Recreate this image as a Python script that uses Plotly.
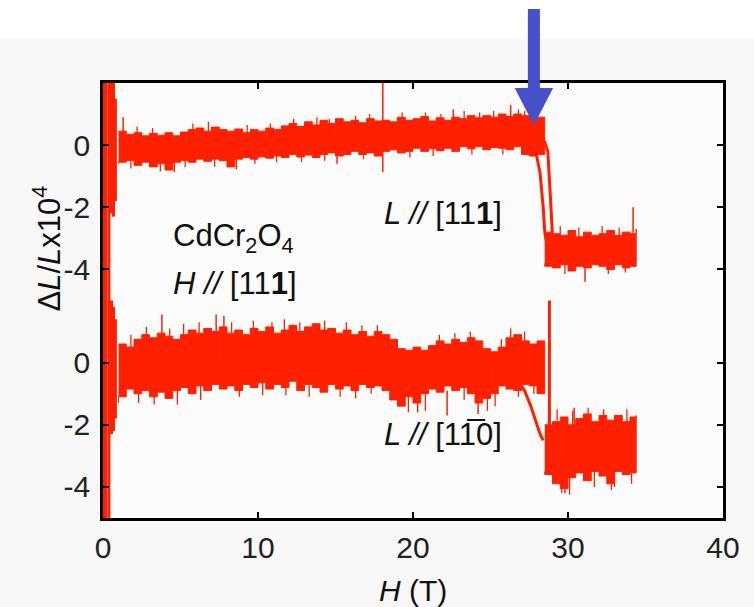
import plotly.graph_objects as go

# ---------------------------------------------------------------
# Magnetostriction of CdCr2O4 in pulsed fields, H // [111]
# Noisy traces are stored as upper / lower envelopes of the signal.
# ---------------------------------------------------------------

# Field grid for the low-field (cubic) part of both traces, in T
H_BASE = [1.0, 1.5, 2.0, 2.5, 3.0, 3.5, 4.0, 4.5, 5.0, 5.5, 6.0, 6.5, 7.0, 7.5,
          8.0, 8.5, 9.0, 9.5, 10.0, 10.5, 11.0, 11.5, 12.0, 12.5, 13.0, 13.5,
          14.0, 14.5, 15.0, 15.5, 16.0, 16.5, 17.0, 17.5, 18.0, 18.5, 19.0,
          19.5, 20.0, 20.5, 21.0, 21.5, 22.0, 22.5, 23.0, 23.5, 24.0, 24.5,
          25.0, 25.5, 26.0, 26.5, 27.0, 27.5, 28.0, 28.5]

# L // [111] : dL/L x 10^4, envelope of the noisy signal
L111_UPPER = [0.45, 0.35, 0.40, 0.30, 0.38, 0.32, 0.40, 0.30, 0.42, 0.50, 0.55,
              0.45, 0.58, 0.50, 0.45, 0.52, 0.40, 0.50, 0.45, 0.55, 0.50, 0.62,
              0.70, 0.60, 0.75, 0.65, 0.80, 0.70, 0.85, 0.75, 0.80, 0.72, 0.85,
              0.78, 0.80, 0.75, 0.90, 0.80, 0.85, 0.92, 0.78, 0.88, 0.80, 0.90,
              0.85, 0.95, 0.88, 0.95, 0.90, 1.00, 0.92, 1.00, 0.95, 0.95, 0.90,
              0.80]
L111_LOWER = [-0.60, -0.55, -0.50, -0.65, -0.55, -0.70, -0.60, -0.80, -0.55,
              -0.50, -0.55, -0.45, -0.52, -0.45, -0.50, -0.70, -0.45, -0.40,
              -0.45, -0.38, -0.42, -0.35, -0.40, -0.30, -0.38, -0.32, -0.40,
              -0.30, -0.25, -0.35, -0.30, -0.20, -0.30, -0.25, -0.35, -0.20,
              -0.15, -0.25, -0.20, -0.10, -0.20, -0.12, -0.18, -0.10, -0.20,
              -0.05, -0.12, -0.05, -0.15, -0.08, -0.10, -0.15, -0.05, -0.30,
              -0.35, -0.30]

# L // [1-10] : dL/L x 10^4, envelope of the noisy signal
L110_UPPER = [0.60, 0.50, 0.75, 0.90, 0.80, 0.95, 0.85, 0.75, 0.90, 1.05, 0.95,
              1.10, 1.00, 1.15, 0.95, 1.05, 0.90, 1.10, 1.00, 1.15, 0.95, 1.05,
              1.20, 1.00, 1.15, 1.25, 1.05, 1.10, 0.95, 1.05, 0.90, 1.00, 0.85,
              1.00, 0.90, 0.75, 0.45, 0.40, 0.50, 0.40, 0.55, 0.70, 0.60, 0.75,
              0.65, 0.80, 0.70, 0.45, 0.35, 0.50, 0.80, 0.90, 0.70, 0.60, 0.70,
              0.65]
L110_LOWER = [-1.30, -1.10, -0.85, -1.00, -0.90, -1.10, -0.95, -1.15, -0.90,
              -0.80, -1.00, -0.75, -0.90, -0.70, -0.85, -0.75, -0.90, -0.70,
              -0.80, -0.65, -0.85, -0.70, -0.80, -0.60, -0.90, -0.70, -0.80,
              -0.95, -0.70, -0.85, -0.75, -0.90, -0.70, -0.80, -0.75, -0.90,
              -1.20, -1.40, -1.10, -1.30, -1.00, -0.85, -0.95, -0.75, -0.90,
              -0.80, -1.00, -1.30, -1.15, -1.00, -0.75, -0.85, -0.90, -0.70,
              -0.75, -1.00]

# High-field (distorted) plateau, field grid in T
H_HIGH = [28.5, 29.0, 29.5, 30.0, 30.5, 31.0, 31.5, 32.0, 32.5, 33.0, 33.5,
          34.0, 34.4]
L111_HIGH_UPPER = [-2.80, -2.85, -2.90, -2.75, -2.95, -2.80, -2.90, -2.85,
                   -2.75, -2.90, -2.80, -2.85, -2.70]
L111_HIGH_LOWER = [-3.80, -3.90, -3.95, -3.85, -4.05, -3.90, -3.95, -3.85,
                   -3.90, -4.00, -3.85, -3.95, -3.90]
L110_HIGH_UPPER = [-2.00, -1.90, -1.75, -2.00, -1.80, -1.65, -1.90, -1.70,
                   -1.85, -1.70, -1.90, -1.75, -1.70]
L110_HIGH_LOWER = [-3.50, -3.60, -3.90, -4.05, -3.70, -3.55, -3.80, -3.50,
                   -3.65, -3.90, -3.50, -3.60, -3.55]

# Transition branches (up and down sweeps)
L111_SWEEP_A_H = [27.4, 27.8, 28.0, 28.2, 28.4, 28.5, 28.7]
L111_SWEEP_A = [0.30, 0.00, -0.40, -0.90, -2.00, -2.80, -3.40]
L111_SWEEP_B_H = [28.0, 28.5, 28.7, 28.8, 28.9, 29.0, 29.1]
L111_SWEEP_B = [0.30, 0.10, -0.20, -1.00, -2.00, -2.90, -3.30]
L110_SWEEP_A_H = [26.8, 27.2, 27.6, 28.0, 28.2, 28.4]
L110_SWEEP_A = [-0.60, -0.90, -1.40, -2.00, -2.30, -2.50]
L110_SWEEP_B_H = [28.8, 28.8, 28.9]
L110_SWEEP_B = [2.00, -2.30, -2.60]

# Isolated spikes: field, low end, high end
L111_SPIKE_H = [1.3, 4.6, 8.6, 15.1, 18.05, 22.6, 26.3, 31.1, 34.2]
L111_SPIKE_LO = [0.2, -0.87, -0.78, -0.60, -0.87, 0.50, 0.50, -4.40, -3.00]
L111_SPIKE_HI = [0.9, -0.20, -0.20, 0.00, 2.00, 1.15, 1.30, -3.50, -2.00]
L110_SPIKE_H = [3.8, 7.3, 7.8, 20.3, 22.2, 24.2, 29.8, 30.4, 33.0]
L110_SPIKE_LO = [0.0, 0.0, 0.0, -1.60, -1.70, -1.65, -4.20, -2.00, -4.00]
L110_SPIKE_HI = [1.55, 1.55, 1.50, -0.80, -0.90, -0.90, -3.40, -1.45, -3.30]

# Noise excursions on the band edges: field and tip value
L111_EDGE_H = [2.2, 3.2, 5.8, 6.8, 9.3, 10.8, 12.3, 13.8, 14.6, 16.3, 17.2,
               19.3, 20.8, 21.8, 23.3, 24.3, 25.2, 26.8, 27.2,
               1.8, 3.7, 5.3, 7.2, 9.8, 11.2, 12.8, 14.3, 16.8, 19.8, 21.3,
               23.8, 25.8]
L111_EDGE_TIP = [0.60, 0.55, 0.70, 0.75, 0.65, 0.70, 0.85, 0.90, 0.85, 0.95,
                 1.00, 1.05, 1.05, 1.00, 1.10, 1.05, 1.10, 1.15, 1.10,
                 -0.75, -0.85, -0.70, -0.70, -0.60, -0.55, -0.55, -0.50, -0.45,
                 -0.40, -0.35, -0.30, -0.30]
L111_HIGH_EDGE_H = [29.5, 30.7, 32.2, 33.3, 29.8, 32.6, 33.7]
L111_HIGH_EDGE_TIP = [-2.60, -2.65, -2.60, -2.65, -4.15, -4.15, -4.10]
L110_EDGE_H = [1.8, 2.8, 4.3, 5.2, 6.2, 8.3, 9.7, 10.9, 11.7, 12.7, 14.3,
               15.7, 16.7, 17.7, 21.7, 22.7, 23.7, 25.7, 26.3, 27.2,
               2.3, 3.3, 4.8, 6.3, 8.8, 10.3, 11.8, 13.3, 15.3, 16.3, 17.3,
               18.8, 19.7, 20.8, 23.3, 24.8, 25.3, 26.8, 27.8]
L110_EDGE_TIP = [0.90, 1.15, 1.10, 1.25, 1.30, 1.30, 1.35, 1.30, 1.40, 1.30,
                 1.35, 1.30, 1.20, 1.20, 0.90, 0.95, 1.00, 0.75, 1.10, 1.00,
                 -1.30, -1.35, -1.35, -1.20, -1.10, -1.05, -1.05, -1.10, -1.10,
                 -1.15, -1.00, -1.20, -1.60, -1.55, -1.20, -1.55, -1.40, -1.10,
                 -1.00]
L110_HIGH_EDGE_H = [29.3, 30.3, 31.3, 32.3, 33.8, 29.6, 30.1, 31.7, 32.8, 34.1]
L110_HIGH_EDGE_TIP = [-1.50, -1.55, -1.45, -1.50, -1.50, -4.20, -4.25, -4.00,
                      -4.10, -3.90]

# Field-pulse onset transients (H < 1 T): field, low end, high end (plot units)
ONSET_H = [0.05, 0.17, 0.38, 0.55, 0.68, 0.80, 0.55, 0.68, 0.80]
ONSET_LO = [-12.0, -12.0, -12.0, -2.2, -2.3, -1.8, -9.3, -9.2, -8.8]
ONSET_HI = [2.0, 2.0, 2.0, 2.0, 2.0, 1.5, -5.0, -5.2, -5.6]

OFFSET_110 = -7.0          # vertical shift of the L // [1-10] trace
H_ARROW = 27.8             # onset of the transition marked by the arrow

RED = "rgb(255,32,0)"
FONT = "Liberation Sans, Arial, sans-serif"

fig = go.Figure()


def band(h, upper, lower, shift=0.0):
    xs = list(h) + list(h)[::-1]
    ys = [v + shift for v in upper] + [v + shift for v in lower][::-1]
    fig.add_trace(go.Scatter(x=xs, y=ys, mode="lines", fill="toself",
                             fillcolor=RED, line=dict(color=RED, width=1, shape="hv"),
                             hoverinfo="skip", showlegend=False))


def curve(h, y, shift=0.0, width=3):
    fig.add_trace(go.Scatter(x=h, y=[v + shift for v in y], mode="lines",
                             line=dict(color=RED, width=width),
                             hoverinfo="skip", showlegend=False))


def spikes(h, lo, hi, shift=0.0, width=1.5):
    xs, ys = [], []
    for x, a, b in zip(h, lo, hi):
        xs += [x, x, None]
        ys += [a + shift, b + shift, None]
    fig.add_trace(go.Scatter(x=xs, y=ys, mode="lines",
                             line=dict(color=RED, width=width),
                             hoverinfo="skip", showlegend=False))


def edge_spikes(h, tip, base, shift=0.0):
    spikes(h, [base] * len(h), tip, shift, width=1.3)


# L // [111]
band(H_BASE, L111_UPPER, L111_LOWER)
band(H_HIGH, L111_HIGH_UPPER, L111_HIGH_LOWER)
curve(L111_SWEEP_A_H, L111_SWEEP_A)
curve(L111_SWEEP_B_H, L111_SWEEP_B)
spikes(L111_SPIKE_H, L111_SPIKE_LO, L111_SPIKE_HI)
edge_spikes(L111_EDGE_H, L111_EDGE_TIP, 0.2)
edge_spikes(L111_HIGH_EDGE_H, L111_HIGH_EDGE_TIP, -3.35)

# L // [1-10], shifted down
band(H_BASE, L110_UPPER, L110_LOWER, OFFSET_110)
band(H_HIGH, L110_HIGH_UPPER, L110_HIGH_LOWER, OFFSET_110)
curve(L110_SWEEP_A_H, L110_SWEEP_A, OFFSET_110)
curve(L110_SWEEP_B_H, L110_SWEEP_B, OFFSET_110)
spikes(L110_SPIKE_H, L110_SPIKE_LO, L110_SPIKE_HI, OFFSET_110)
edge_spikes(L110_EDGE_H, L110_EDGE_TIP, 0.0, OFFSET_110)
edge_spikes(L110_HIGH_EDGE_H, L110_HIGH_EDGE_TIP, -2.8, OFFSET_110)

# pulse onset
spikes(ONSET_H, ONSET_LO, ONSET_HI, width=3)

tick_font = dict(family=FONT, size=30, color="#222")
fig.update_xaxes(range=[0, 40], tickvals=[0, 10, 20, 30, 40],
                 ticks="inside", ticklen=6, tickwidth=2, tickcolor="black",
                 showline=True, linecolor="black", linewidth=3, mirror="ticks",
                 showgrid=False, zeroline=False, tickfont=tick_font,
                 ticklabelstandoff=1)
fig.update_yaxes(range=[-12, 2],
                 tickvals=[0, -2, -4, OFFSET_110, OFFSET_110 - 2, OFFSET_110 - 4],
                 ticktext=["0", "-2", "-4", "0", "-2", "-4"],
                 ticks="inside", ticklen=6, tickwidth=2, tickcolor="black",
                 showline=True, linecolor="black", linewidth=2.5, mirror="ticks",
                 showgrid=False, zeroline=False, tickfont=tick_font,
                 ticklabelstandoff=4)

text_font = dict(family=FONT, size=31, color="#111")
annotations = [
    dict(x=4.4, y=-3.0, xref="x", yref="y", xanchor="left", yanchor="middle",
         text="CdCr<sub>2</sub>O<sub>4</sub>", showarrow=False, font=text_font),
    dict(x=4.4, y=-4.45, xref="x", yref="y", xanchor="left", yanchor="middle",
         text="<i>H //</i> [11<b>1</b>]", showarrow=False, font=text_font),
    dict(x=18.0, y=-2.2, xref="x", yref="y", xanchor="left", yanchor="middle",
         text="<i>L //</i> [11<b>1</b>]", showarrow=False, font=text_font),
    dict(x=18.0, y=OFFSET_110 - 2.3, xref="x", yref="y", xanchor="left",
         yanchor="middle", text="<i>L //</i> [11\u03050]",
         showarrow=False, font=text_font),
    dict(x=-0.090, y=0.62, xref="paper", yref="paper", textangle=-90,
         xanchor="center", yanchor="middle",
         text="\u0394<i>L</i>/<i>L</i>x10<sup>4</sup>", showarrow=False,
         font=dict(family=FONT, size=31, color="#111")),
    dict(x=0.5, y=-0.166, xref="paper", yref="paper",
         xanchor="center", yanchor="middle",
         text="<i>H</i> (T)", showarrow=False,
         font=dict(family=FONT, size=30, color="#111")),
]

# blue arrow marking the transition field
xp = H_ARROW / 40.0
shaft_w, head_w = 0.0097, 0.031
y_tip, y_neck, y_top = 0.903, 0.9885, 1.170
arrow_path = (f"M {xp},{y_tip} L {xp - head_w},{y_neck} L {xp - shaft_w},{y_neck} "
              f"L {xp - shaft_w},{y_top} L {xp + shaft_w},{y_top} "
              f"L {xp + shaft_w},{y_neck} L {xp + head_w},{y_neck} Z")

fig.update_layout(
    width=754, height=607,
    margin=dict(l=103, r=31, t=83, b=89),
    paper_bgcolor="#f8f8f8", plot_bgcolor="#fcfcfc",
    annotations=annotations,
    shapes=[
        dict(type="rect", xref="paper", yref="paper", x0=-0.2, x1=1.1,
             y0=1.103, y1=1.25, fillcolor="white", line=dict(width=0),
             layer="below"),
        dict(type="path", xref="paper", yref="paper", path=arrow_path,
             fillcolor="#4650c8", line=dict(width=0)),
    ],
    showlegend=False,
)

fig.write_html("out.html")
